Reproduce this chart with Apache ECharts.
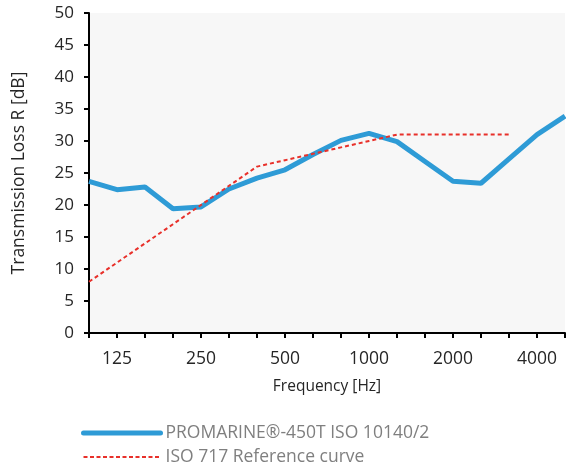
<!DOCTYPE html>
<html><head><meta charset="utf-8">
<script src="https://cdn.jsdelivr.net/npm/echarts@6/dist/echarts.min.js"></script>
<style>html,body{margin:0;padding:0;background:#fff}#c{width:566px;height:468px}</style>
</head><body><div id="c"></div>
<script>
var frequencies = ['100','125','160','200','250','315','400','500','630','800','1000','1250','1600','2000','2500','3150','4000','5000'];
var promarineValues = [23.7,22.4,22.8,19.4,19.7,22.5,24.2,25.5,27.9,30.1,31.2,29.9,26.8,23.7,23.4,27.2,31.0,33.9];
var referenceValues = [8,11,14,17,20,23,26,27,28,29,30,31,31,31,31,31,null,null];
var yTicks = {min:0, max:50, interval:5};
var seriesNames = ['PROMARINE®-450T ISO 10140/2','ISO 717 Reference curve'];
var font = "'Open Sans', sans-serif";
var chart = echarts.init(document.getElementById('c'));
chart.setOption({
  animation:false,
  textStyle:{fontFamily:font},
  grid:{left:89,right:1,top:13,height:320,backgroundColor:'#f7f7f7',show:true,borderWidth:0},
  legend:{
    orient:'vertical', left:81, top:424, padding:0, itemWidth:77, itemHeight:14, itemGap:6,
    itemStyle:{opacity:0},
    textStyle:{color:'#7f7f7f',fontSize:17.5,lineHeight:14,fontFamily:font},
    data:[
      {name:seriesNames[0], lineStyle:{width:5, cap:'round', color:'#2e9bd6'}},
      {name:seriesNames[1], lineStyle:{width:2, type:[4,2.5], color:'#e8302a'}}
    ]
  },
  xAxis:{
    type:'category', data:frequencies, boundaryGap:false,
    name:'Frequency [Hz]', nameLocation:'middle', nameGap:46,
    nameTextStyle:{color:'#262626',fontSize:15.5},
    axisLine:{lineStyle:{color:'#000',width:2}},
    axisTick:{show:true,interval:0,length:5,lineStyle:{color:'#000',width:2}},
    axisLabel:{interval:function(i){return i%3===1;},color:'#262626',fontSize:17.5,margin:17}
  },
  yAxis:{
    type:'value', min:yTicks.min, max:yTicks.max, interval:yTicks.interval,
    name:'Transmission Loss R [dB]', nameLocation:'middle', nameGap:61,
    nameTextStyle:{color:'#262626',fontSize:17.5},
    splitLine:{show:false},
    axisLine:{show:true,lineStyle:{color:'#000',width:2}},
    axisTick:{show:true,length:5,lineStyle:{color:'#000',width:2}},
    axisLabel:{color:'#262626',fontSize:17,margin:15}
  },
  series:[
    {name:seriesNames[0], type:'line', data:promarineValues, symbol:'none',
     lineStyle:{color:'#2e9bd6',width:5}, itemStyle:{color:'#2e9bd6'}},
    {name:seriesNames[1], type:'line', data:referenceValues, symbol:'none',
     lineStyle:{color:'#e8302a',width:2,type:[4,3]}, itemStyle:{color:'#e8302a'}}
  ]
});
</script></body></html>
